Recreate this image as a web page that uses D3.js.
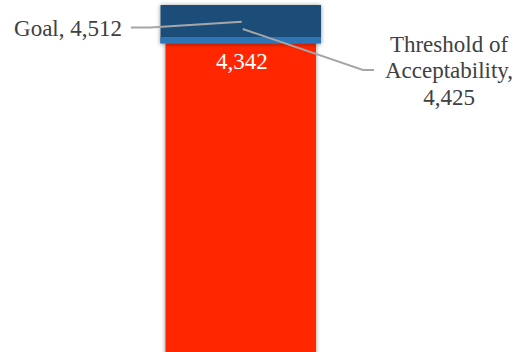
<!DOCTYPE html>
<html>
<head>
<meta charset="utf-8">
<script src="https://cdn.jsdelivr.net/npm/d3@7"></script>
<style>
  html, body { margin: 0; padding: 0; background: #fff; }
  svg { display: block; }
</style>
</head>
<body>
<script>
// Chart values
const categories = ["Actual"];
const actualValues = [4342];
const goalValues = [4512];
const thresholdValues = [4425];
const goalLabel = "Goal";
const thresholdLabelLines = ["Threshold of", "Acceptability,"];

const width = 517, height = 352;
const fmt = d3.format(",");

const svg = d3.select("body").append("svg")
  .attr("width", width)
  .attr("height", height)
  .style("overflow", "hidden");

// Soft shadow around the bar and the goal box
const defs = svg.append("defs");
const shadow = defs.append("filter")
  .attr("id", "soft-shadow")
  .attr("x", "-20%").attr("y", "-20%")
  .attr("width", "140%").attr("height", "140%");
shadow.append("feDropShadow")
  .attr("dx", 0).attr("dy", 0.5)
  .attr("stdDeviation", 2)
  .attr("flood-color", "#000")
  .attr("flood-opacity", 0.45);

// Scales: the value axis is zoomed on the top of the bar
const x = d3.scaleBand().domain(categories).range([160.5, 321]).padding(0);
const y = d3.scaleLinear().domain([4342, 4512]).range([43.3, 5]);

const barInset = 5;
const stripHeight = 6.3;
const textColor = "#404040";
const leaderColor = "#A6A6A6";
const fontFamily = "'Liberation Serif', 'Times New Roman', serif";

categories.forEach((cat, i) => {
  const actual = actualValues[i];
  const goal = goalValues[i];
  const threshold = thresholdValues[i];
  const x0 = x(cat);
  const bw = x.bandwidth();

  // Actual bar, from zero up to the actual value (extends below the view)
  const barBottom = Math.min(y(0), height + 40);
  svg.append("rect")
    .attr("x", x0 + barInset)
    .attr("y", y(actual))
    .attr("width", bw - 2 * barInset)
    .attr("height", barBottom - y(actual))
    .attr("fill", "#FF2600")
    .attr("filter", "url(#soft-shadow)");

  // Goal box, spanning from the actual value up to the goal
  const g = svg.append("g").attr("filter", "url(#soft-shadow)");
  g.append("rect")
    .attr("x", x0)
    .attr("y", y(goal))
    .attr("width", bw)
    .attr("height", y(actual) - y(goal))
    .attr("fill", "#1F4E79");
  g.append("rect")
    .attr("x", x0)
    .attr("y", y(actual) - stripHeight)
    .attr("width", bw)
    .attr("height", stripHeight)
    .attr("fill", "#2E75B6");

  // Value label inside the bar
  svg.append("text")
    .attr("x", x0 + bw / 2 + 1)
    .attr("y", y(actual) + 26)
    .attr("text-anchor", "middle")
    .attr("font-family", fontFamily)
    .attr("font-size", 23)
    .attr("fill", "#fff")
    .text(fmt(actual));

  // Leader lines into the goal box
  const boxMid = (y(goal) + y(actual)) / 2;
  const cx = x0 + bw / 2;
  const line = d3.line();

  svg.append("path")
    .attr("d", line([[131, 27.6], [150, 27.6], [cx + 1, boxMid - 2.3]]))
    .attr("fill", "none")
    .attr("stroke", leaderColor)
    .attr("stroke-width", 2);

  svg.append("path")
    .attr("d", line([[cx + 2, boxMid + 4.8], [363, 70], [374, 70]]))
    .attr("fill", "none")
    .attr("stroke", leaderColor)
    .attr("stroke-width", 2);

  // Goal label
  svg.append("text")
    .attr("x", 122)
    .attr("y", 36)
    .attr("text-anchor", "end")
    .attr("font-family", fontFamily)
    .attr("font-size", 23)
    .attr("fill", textColor)
    .text(`${goalLabel}, ${fmt(goal)}`);

  // Threshold label
  const tl = svg.append("text")
    .attr("text-anchor", "middle")
    .attr("font-family", fontFamily)
    .attr("font-size", 23)
    .attr("fill", textColor);
  const lines = [...thresholdLabelLines, fmt(threshold)];
  const baselines = [51.6, 78.3, 105];
  lines.forEach((t, k) => {
    tl.append("tspan")
      .attr("x", 449)
      .attr("y", baselines[k])
      .text(t);
  });
});
</script>
</body>
</html>
